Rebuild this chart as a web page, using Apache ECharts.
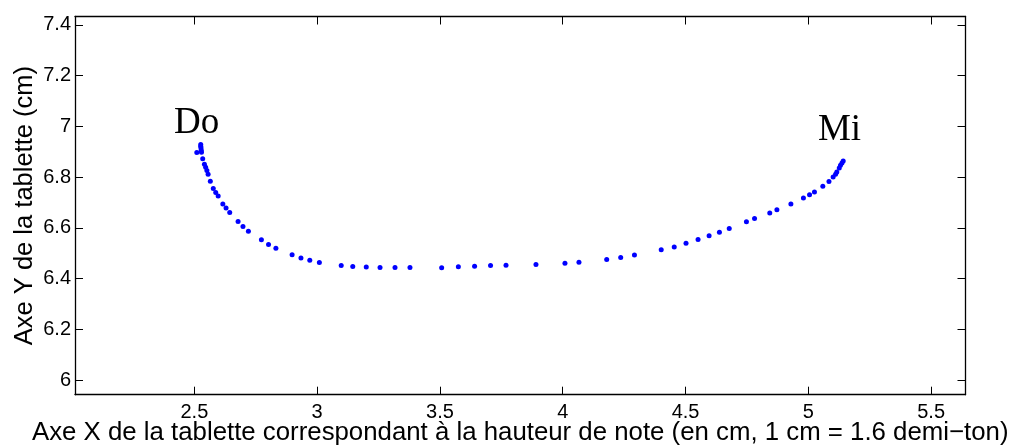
<!DOCTYPE html>
<html>
<head>
<meta charset="utf-8">
<script src="https://cdn.jsdelivr.net/npm/echarts@6/dist/echarts.min.js"></script>
<style>html,body{margin:0;padding:0;background:#fff;}#c{width:1014px;height:448px;}</style>
</head>
<body>
<div id="c"></div>
<script>
// Trajectory from "Do" to "Mi" (cm)
const trajX = [2.526, 2.526, 2.527, 2.528, 2.510, 2.529, 2.534, 2.541, 2.546, 2.551, 2.556, 2.565, 2.577, 2.587, 2.597,
  2.616, 2.629, 2.644, 2.678, 2.698, 2.720, 2.773, 2.802, 2.832, 2.898, 2.934, 2.970, 3.009, 3.098, 3.145,
  3.200, 3.256, 3.317, 3.378, 3.507, 3.575, 3.641, 3.706, 3.769, 3.891, 4.009, 4.066, 4.179, 4.236, 4.292,
  4.401, 4.454, 4.502, 4.551, 4.596, 4.638, 4.678, 4.748, 4.781, 4.843, 4.872, 4.929, 4.980, 5.005, 5.025,
  5.059, 5.084, 5.101, 5.111, 5.116, 5.126, 5.131, 5.137, 5.142];
const trajY = [6.929, 6.922, 6.915, 6.906, 6.897, 6.898, 6.873, 6.851, 6.839, 6.826, 6.812, 6.784, 6.755, 6.740, 6.726,
  6.694, 6.679, 6.661, 6.625, 6.606, 6.587, 6.553, 6.535, 6.520, 6.494, 6.482, 6.473, 6.464, 6.452, 6.448,
  6.446, 6.444, 6.444, 6.444, 6.443, 6.447, 6.449, 6.452, 6.453, 6.456, 6.461, 6.465, 6.476, 6.484, 6.493,
  6.514, 6.525, 6.540, 6.554, 6.569, 6.583, 6.598, 6.624, 6.637, 6.659, 6.672, 6.694, 6.718, 6.731, 6.742,
  6.764, 6.783, 6.801, 6.812, 6.820, 6.836, 6.847, 6.856, 6.864];
const noteNames = ['Do', 'Mi'];
const noteX = [2.509, 5.127];
const noteY = [7.012, 6.984];
const xTicks = [2.5, 3, 3.5, 4, 4.5, 5, 5.5];
const yTicks = [6, 6.2, 6.4, 6.6, 6.8, 7, 7.2, 7.4];
const xRange = [2.014, 5.64];
const yRange = [5.943, 7.433];

const chart = echarts.init(document.getElementById('c'), null, {renderer: 'canvas'});
const sans = 'Liberation Sans, Arial, Helvetica, sans-serif';
function fmt(v) { return String(Math.round(v * 10) / 10); }
const tickStyle = {show: true, inside: true, length: 8, lineStyle: {color: '#000', width: 1}};
const lineStyle = {show: true, lineStyle: {color: '#000', width: 1.3}};
chart.setOption({
  animation: false,
  backgroundColor: '#fff',
  grid: {left: 75, top: 16.5, right: 48.5, bottom: 53.3, containLabel: false, outerBoundsMode: 'none'},
  xAxis: [{
    type: 'value', min: xRange[0], max: xRange[1], position: 'bottom',
    name: 'Axe X de la tablette correspondant à la hauteur de note (en cm, 1 cm = 1.6 demi\u2212ton)',
    nameLocation: 'middle', nameGap: 25, nameMoveOverlap: false,
    nameTextStyle: {fontFamily: sans, fontSize: 25.8, color: '#000'},
    axisLine: lineStyle, splitLine: {show: false},
    axisTick: Object.assign({customValues: xTicks}, tickStyle),
    axisLabel: {customValues: xTicks, formatter: fmt, fontFamily: sans, fontSize: 20, color: '#000', margin: 8}
  }, {
    type: 'value', min: xRange[0], max: xRange[1], position: 'top',
    axisLine: lineStyle, splitLine: {show: false},
    axisTick: Object.assign({customValues: xTicks}, tickStyle),
    axisLabel: {show: false}
  }],
  yAxis: [{
    type: 'value', min: yRange[0], max: yRange[1], position: 'left',
    name: 'Axe Y de la tablette (cm)', nameLocation: 'middle', nameGap: 37, nameRotate: 90,
    nameMoveOverlap: false,
    nameTextStyle: {fontFamily: sans, fontSize: 25.5, color: '#000'},
    axisLine: lineStyle, splitLine: {show: false},
    axisTick: Object.assign({customValues: yTicks}, tickStyle),
    axisLabel: {customValues: yTicks, formatter: fmt, fontFamily: sans, fontSize: 20, color: '#000', margin: 4}
  }, {
    type: 'value', min: yRange[0], max: yRange[1], position: 'right',
    axisLine: lineStyle, splitLine: {show: false},
    axisTick: Object.assign({customValues: yTicks}, tickStyle),
    axisLabel: {show: false}
  }],
  series: [{
    type: 'scatter',
    data: trajX.map((x, i) => [x, trajY[i]]),
    symbol: 'circle', symbolSize: 5,
    itemStyle: {color: '#0000ff', opacity: 1}
  }, {
    type: 'scatter',
    data: noteX.map((x, i) => ({value: [x, noteY[i]], name: noteNames[i]})),
    symbolSize: 0, itemStyle: {color: '#000', opacity: 1},
    label: {show: true, position: 'inside', formatter: p => p.name,
      fontFamily: 'Liberation Serif, Times New Roman, serif', fontSize: 37, color: '#000',
      textBorderWidth: 0, opacity: 1,
      align: 'center', verticalAlign: 'middle'}
  }]
});
</script>
</body>
</html>
